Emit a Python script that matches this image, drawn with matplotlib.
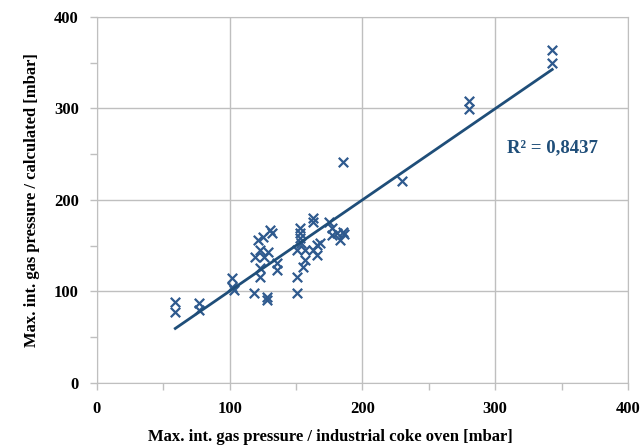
import matplotlib
matplotlib.use("Agg")
import matplotlib.pyplot as plt
from matplotlib.ticker import MultipleLocator
import numpy as np

# measured (industrial coke oven) vs calculated pressure, mbar
measured = [59, 59, 77, 77, 102, 102, 103,
            118, 119, 121, 123, 123, 123, 125, 126, 128, 128, 129, 130, 132, 136, 136,
            151, 151, 151, 153, 153, 153, 154, 155, 157, 157, 163, 163, 163, 166, 166, 168,
            175, 177, 177, 181, 183, 185, 186, 185,
            230, 280, 280, 343, 343]
calculated = [89, 78, 87, 80, 115, 105, 102,
              98, 138, 156, 145, 126, 116, 160, 138, 94, 91, 143, 167, 164, 131, 124,
              98, 116, 145, 169, 164, 158, 153, 127, 145, 134, 180, 176, 145, 151, 140, 153,
              176, 169, 162, 164, 156, 165, 163, 241,
              221, 308, 299, 364, 350]
r2_text = "R² = 0,8437"

blue = "#2F5A8E"
dark = "#1F4E79"
grey = "#BFBFBF"

plt.rcParams["font.family"] = ["Liberation Serif", "DejaVu Serif"]
plt.rcParams["font.weight"] = "bold"

fig = plt.figure(figsize=(6.44, 4.47), dpi=100)
ax = fig.add_axes([0.1506, 0.1432, 0.8244, 0.8188])

ax.scatter(measured, calculated, marker="x", s=46, color=blue, linewidths=1.6, zorder=3)

# linear trend line over the data range
k, b = np.polyfit(measured, calculated, 1)
xs = np.array([min(measured), max(measured)])
ax.plot(xs, k * xs + b, color=dark, lw=2.0, zorder=4)

ax.text(309, 257, r2_text, color=dark, fontsize=13.5, fontweight="bold", va="center")

ax.set_xlim(0, 400)
ax.set_ylim(0, 400)
ax.xaxis.set_major_locator(MultipleLocator(100))
ax.yaxis.set_major_locator(MultipleLocator(100))
ax.xaxis.set_minor_locator(MultipleLocator(50))
ax.yaxis.set_minor_locator(MultipleLocator(50))
ax.grid(True, which="major", color=grey, lw=1.0)
ax.set_axisbelow(True)

for sp in ax.spines.values():
    sp.set_color(grey)
ax.tick_params(which="both", colors=grey, length=5, width=1.0, labelcolor="black",
               labelsize=12)
ax.tick_params(axis="x", pad=8)
ax.tick_params(axis="y", pad=8)

ax.set_xlabel("Max. int. gas pressure / industrial coke oven [mbar]", fontsize=12,
              fontweight="bold")
ax.xaxis.set_label_coords(0.44, -0.125)
ax.set_ylabel("Max. int. gas pressure / calculated [mbar]", fontsize=12,
              fontweight="bold", labelpad=10)

fig.savefig("out.png", dpi=100)
